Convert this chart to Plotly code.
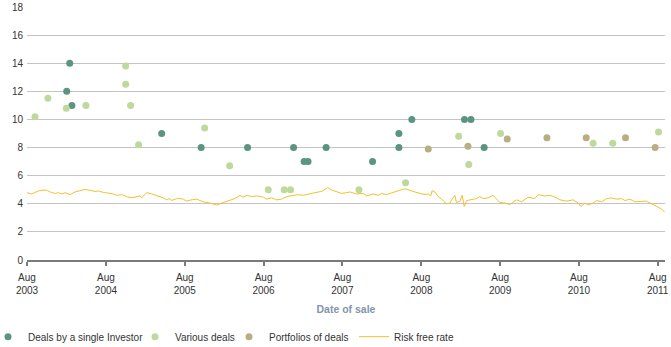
import plotly.graph_objects as go

# ---------------- data ----------------
single_dates = ["2004-02-01", "2004-02-15", "2004-02-25", "2005-04-16", "2005-10-16",
                "2006-05-19", "2006-12-18", "2007-02-05", "2007-02-23", "2007-05-18",
                "2007-12-19", "2008-04-19", "2008-04-19", "2008-06-18", "2009-02-17",
                "2009-03-19", "2009-05-19"]
single_vals = [12, 14, 11, 9, 8,
               8, 8, 7, 7, 8,
               7, 9, 8, 10, 10,
               10, 8]

various_dates = ["2003-09-07", "2003-11-06", "2004-01-30", "2004-04-30", "2004-10-31",
                 "2004-10-31", "2004-11-23", "2004-12-30", "2005-11-01", "2006-02-25",
                 "2006-08-23", "2006-11-05", "2006-12-04", "2007-10-17", "2008-05-20",
                 "2009-01-21", "2009-03-09", "2009-08-03", "2010-10-06", "2011-01-05",
                 "2011-08-05"]
various_vals = [10.2, 11.5, 10.8, 11.0, 13.8,
                12.5, 11.0, 8.2, 9.4, 6.7,
                5.0, 5.0, 5.0, 5.0, 5.5,
                8.8, 6.8, 9.0, 8.3, 8.3,
                9.1]

portfolio_dates = ["2008-09-02", "2009-03-05", "2009-09-03", "2010-03-06", "2010-09-04",
                   "2011-03-05", "2011-07-20"]
portfolio_vals = [7.9, 8.1, 8.6, 8.7, 8.7, 8.7, 8.0]

rf_dates = ["2003-08-01", "2003-08-23", "2003-09-22", "2003-10-23", "2003-11-05", "2003-11-23",
            "2003-12-12", "2003-12-24", "2004-01-09", "2004-01-24", "2004-02-16", "2004-03-10",
            "2004-04-02", "2004-04-26", "2004-05-19", "2004-06-11", "2004-06-26", "2004-07-19",
            "2004-08-19", "2004-09-04", "2004-09-19", "2004-10-13", "2004-11-05", "2004-11-25",
            "2004-12-13", "2005-01-05", "2005-01-13", "2005-02-05", "2005-03-01", "2005-03-31",
            "2005-04-23", "2005-05-09", "2005-05-24", "2005-06-01", "2005-06-24", "2005-07-10",
            "2005-07-25", "2005-08-10", "2005-08-25", "2005-09-25", "2005-10-26", "2005-11-26",
            "2005-12-27", "2006-01-19", "2006-02-18", "2006-03-21", "2006-04-14", "2006-04-29",
            "2006-05-15", "2006-06-07", "2006-06-30", "2006-07-31", "2006-08-15", "2006-09-07",
            "2006-10-01", "2006-10-24", "2006-11-16", "2006-12-09", "2007-01-09", "2007-02-01",
            "2007-03-04", "2007-03-27", "2007-04-27", "2007-05-25", "2007-06-12", "2007-07-06",
            "2007-07-29", "2007-08-21", "2007-09-05", "2007-10-06", "2007-11-06", "2007-11-21",
            "2007-12-22", "2008-01-14", "2008-01-30", "2008-02-22", "2008-03-16", "2008-04-16",
            "2008-05-17", "2008-06-09", "2008-07-02", "2008-07-25", "2008-08-18", "2008-09-02",
            "2008-09-14", "2008-09-20", "2008-10-03", "2008-10-18", "2008-11-03", "2008-11-26",
            "2008-12-11", "2008-12-22", "2009-01-03", "2009-01-11", "2009-01-27", "2009-02-06",
            "2009-02-16", "2009-02-27", "2009-03-22", "2009-04-14", "2009-04-29", "2009-05-15",
            "2009-06-07", "2009-06-30", "2009-07-16", "2009-07-31", "2009-08-23", "2009-09-15",
            "2009-10-16", "2009-11-08", "2009-12-09", "2010-01-09", "2010-01-24", "2010-02-24",
            "2010-03-20", "2010-04-12", "2010-05-05", "2010-06-05", "2010-07-05", "2010-07-29",
            "2010-08-10", "2010-08-29", "2010-09-13", "2010-10-06", "2010-10-22", "2010-11-14",
            "2010-12-07", "2010-12-30", "2011-01-23", "2011-02-15", "2011-03-02", "2011-03-25",
            "2011-04-17", "2011-05-18", "2011-06-10", "2011-07-04", "2011-07-27", "2011-08-19",
            "2011-09-03"]
rf_vals = [4.79, 4.70, 4.91, 4.98, 4.93, 4.79,
           4.74, 4.79, 4.70, 4.79, 4.65, 4.84,
           4.93, 5.02, 4.95, 4.88, 4.91, 4.81,
           4.74, 4.70, 4.60, 4.65, 4.51, 4.42,
           4.47, 4.56, 4.42, 4.79, 4.70, 4.56,
           4.42, 4.28, 4.37, 4.23, 4.37, 4.37,
           4.33, 4.19, 4.26, 4.33, 4.14, 4.05,
           3.91, 4.05, 4.23, 4.37, 4.60, 4.47,
           4.60, 4.51, 4.56, 4.47, 4.33, 4.42,
           4.28, 4.33, 4.51, 4.56, 4.65, 4.60,
           4.74, 4.79, 4.88, 5.16, 4.98, 4.84,
           4.74, 4.79, 4.84, 4.70, 4.74, 4.56,
           4.70, 4.60, 4.74, 4.65, 4.79, 4.93,
           5.07, 4.93, 4.84, 4.74, 4.65, 4.70,
           4.56, 4.93, 4.84, 4.51, 4.33, 4.00,
           4.05, 4.33, 4.60, 4.09, 4.19, 4.60,
           3.81, 4.23, 4.28, 4.37, 4.51, 4.37,
           4.42, 4.60, 4.33, 4.09, 4.05, 3.95,
           4.28, 4.14, 4.47, 4.37, 4.65, 4.56,
           4.60, 4.47, 4.28, 4.19, 4.28, 4.05,
           3.81, 4.05, 3.91, 4.05, 4.23, 4.14,
           4.37, 4.42, 4.33, 4.37, 4.23, 4.33,
           4.14, 4.14, 4.19, 4.00, 3.81, 3.63,
           3.40]

tick_dates = ["2003-08-01", "2004-08-01", "2005-08-01", "2006-08-01", "2007-08-01",
              "2008-08-01", "2009-08-01", "2010-08-01", "2011-08-01"]
tick_text = ["Aug<br>2003", "Aug<br>2004", "Aug<br>2005", "Aug<br>2006", "Aug<br>2007",
             "Aug<br>2008", "Aug<br>2009", "Aug<br>2010", "Aug<br>2011"]
y_ticks = [0, 2, 4, 6, 8, 10, 12, 14, 16, 18]

# ---------------- figure ----------------
FONT = "Liberation Sans, Arial, sans-serif"
W, H = 671, 347
ML, MR, MT, MB = 27, 6, 7, 87
PW = W - ML - MR


def lx(px):
    """page pixel -> paper x for legend placement"""
    return (px - ML) / PW


fig = go.Figure()
fig.add_trace(go.Scatter(x=single_dates, y=single_vals, mode="markers",
                         name="Deals by a single Investor", legend="legend",
                         marker=dict(color="#5b9483", size=7)))
fig.add_trace(go.Scatter(x=various_dates, y=various_vals, mode="markers",
                         name="Various deals", legend="legend2",
                         marker=dict(color="#bfd99c", size=7)))
fig.add_trace(go.Scatter(x=portfolio_dates, y=portfolio_vals, mode="markers",
                         name="Portfolios of deals", legend="legend3",
                         marker=dict(color="#b9ae82", size=7)))
fig.add_trace(go.Scatter(x=rf_dates, y=rf_vals, mode="lines",
                         name="Risk free rate", legend="legend4",
                         line=dict(color="#f2c12e", width=1)))

leg_common = dict(orientation="h", xanchor="left", y=-0.303, yanchor="middle",
                  font=dict(size=10, color="#333333"), bgcolor="rgba(0,0,0,0)",
                  itemwidth=30)

fig.update_layout(
    width=W, height=H,
    margin=dict(l=ML, r=MR, t=MT, b=MB, autoexpand=False),
    paper_bgcolor="white", plot_bgcolor="white",
    font=dict(family=FONT, size=10, color="#333333"),
    showlegend=True,
    legend=dict(x=lx(-12), **leg_common),
    legend2=dict(x=lx(135), **leg_common),
    legend3=dict(x=lx(229), **leg_common),
    legend4=dict(x=lx(354), **leg_common),
    xaxis=dict(type="date", range=["2003-08-01", "2011-09-04"], automargin=False,
               tickvals=tick_dates, ticktext=tick_text,
               showgrid=False, zeroline=False,
               showline=True, linecolor="#7a7a7a", linewidth=2,
               ticks="outside", ticklen=4, tickwidth=1.5, tickcolor="#7a7a7a",
               ticklabelstandoff=3,
               tickfont=dict(size=10, color="#333333"),
               title=dict(text="<b>Date of sale</b>", standoff=11,
                          font=dict(size=10.5, color="#8494ad"))),
    yaxis=dict(range=[0, 18], tickvals=y_ticks, showgrid=True, gridcolor="#c4c4c4",
               gridwidth=1, zeroline=False, showline=False, ticks="", automargin=False,
               ticklabelstandoff=3,
               tickfont=dict(size=10, color="#333333")),
)

fig.write_html("out.html")
